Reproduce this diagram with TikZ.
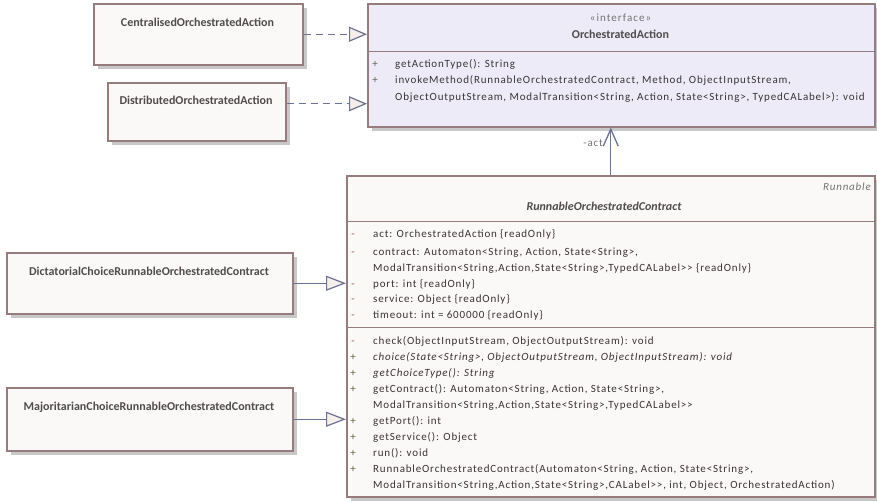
\documentclass[tikz,border=0pt]{standalone}
\usepackage{fontspec}
\setmainfont{Carlito}
\newfontfamily\bodyf[LetterSpace=7.5]{Carlito}
\newfontfamily\sterf[LetterSpace=9.5]{Carlito}
\usetikzlibrary{arrows.meta,shadows}
\definecolor{boxborder}{RGB}{150,124,124}
\definecolor{boxfill}{RGB}{251,249,248}
\definecolor{ifill}{RGB}{238,235,249}
\definecolor{linec}{RGB}{108,114,146}
\definecolor{trifill}{RGB}{246,238,234}
\definecolor{txt}{RGB}{58,52,52}
\definecolor{ttl}{RGB}{80,76,76}
\definecolor{lbl}{RGB}{115,115,115}
\definecolor{plusc}{RGB}{90,105,65}
\definecolor{minusc}{RGB}{145,90,80}
\definecolor{shadowc}{RGB}{200,200,200}
\tikzset{
  classbox/.style={draw=boxborder, line width=1.5pt, fill=boxfill, anchor=north west,
    inner sep=0pt, drop shadow={shadow xshift=4pt, shadow yshift=-4pt, fill=shadowc, opacity=1}},
  ifacebox/.style={classbox, fill=ifill},
  sepline/.style={draw=boxborder, line width=0.9pt},
  ttlstyle/.style={anchor=base, inner sep=0pt, font=\fontsize{12}{14}\selectfont\bfseries, text=ttl},
  mem/.style={anchor=base west, inner sep=0pt, font=\bodyf\fontsize{11}{13}\selectfont, text=txt},
  plusm/.style={anchor=base, inner sep=0pt, font=\fontsize{11}{13}\selectfont, text=plusc},
  minusm/.style={anchor=base, inner sep=0pt, font=\fontsize{11}{13}\selectfont, text=minusc},
  dashline/.style={draw=linec, line width=1.3pt, dash pattern=on 7pt off 5pt},
  solidline/.style={draw=linec, line width=1.3pt},
  reali/.style={-{Triangle[length=18pt,width=15pt,fill=trifill,line width=1.2pt]}},
  gener/.style={-{Triangle[length=20pt,width=15pt,fill=trifill,line width=1.2pt]}},
  assoc/.style={-{Straight Barb[length=17pt,width=15pt,line width=1.3pt]}}
}
\begin{document}
\begin{tikzpicture}[x=1pt,y=-1pt]
\useasboundingbox (0,0) rectangle (877,501);
\fill[white] (0,0) rectangle (877,501);

% boxes
\node[classbox, minimum width=209pt, minimum height=61pt] (cent) at (93,3) {};
\node[classbox, minimum width=178pt, minimum height=58pt] (dist) at (107,82) {};
\node[classbox, minimum width=286pt, minimum height=61pt] (dict) at (6,252) {};
\node[classbox, minimum width=286pt, minimum height=63pt] (maj) at (6,387) {};
\node[ifacebox, minimum width=507pt, minimum height=123pt] (iface) at (367,3) {};
\node[classbox, minimum width=528pt, minimum height=321pt] (run) at (346,175) {};

% separators
\draw[sepline] (iface.west |- 0,51) -- (iface.east |- 0,51);
\draw[sepline] (run.west |- 0,221) -- (run.east |- 0,221);
\draw[sepline] (run.west |- 0,327) -- (run.east |- 0,327);

% titles
\node[ttlstyle] (centT) at (197.5,26) {CentralisedOrchestratedAction};
\node[ttlstyle] (distT) at (196,104) {DistributedOrchestratedAction};
\node[ttlstyle] (dictT) at (149,275) {DictatorialChoiceRunnableOrchestratedContract};
\node[ttlstyle] (majT) at (149,410) {MajoritarianChoiceRunnableOrchestratedContract};

% interface
\node[anchor=base, inner sep=0pt, font=\sterf\fontsize{11}{13}\selectfont, text=lbl] (istereo) at (620.5,21) {«interface»};
\node[ttlstyle] (iT) at (620.5,38) {OrchestratedAction};
\node[plusm] (ip1) at (375,67) {+};
\node[mem] (im1) at (395,67) {getActionType(): String};
\node[plusm] (ip2) at (375,83.5) {+};
\node[mem] (im2) at (395,83.5) {invokeMethod(RunnableOrchestratedContract, Method, ObjectInputStream,};
\node[mem] (im3) at (395,100) {ObjectOutputStream, ModalTransition<String, Action, State<String>, TypedCALabel>): void};

% runnable
\node[anchor=base east, inner sep=0pt, font=\bodyf\fontsize{11}{13}\selectfont\itshape, text=lbl] (rster) at (871,190) {Runnable};
\node[ttlstyle, font=\fontsize{12}{14}\selectfont\bfseries\itshape] (rT) at (604,210) {RunnableOrchestratedContract};

\node[minusm] (ra0) at (353,237) {-};
\node[mem] (ra1) at (373,237) {act: OrchestratedAction \{readOnly\}};
\node[minusm] (rb0) at (353,255) {-};
\node[mem] (rb1) at (373,255) {contract: Automaton<String, Action, State<String>,};
\node[mem] (rb2) at (373,271) {ModalTransition<String,Action,State<String>,TypedCALabel>{}> \{readOnly\}};
\node[minusm] (rc0) at (353,287) {-};
\node[mem] (rc1) at (373,287) {port: int \{readOnly\}};
\node[minusm] (rd0) at (353,302) {-};
\node[mem] (rd1) at (373,302) {service: Object \{readOnly\}};
\node[minusm] (re0) at (353,318) {-};
\node[mem] (re1) at (373,318) {timeout: int = 600000 \{readOnly\}};

\node[minusm] (rf0) at (353,344) {-};
\node[mem] (rf1) at (373,344) {check(ObjectInputStream, ObjectOutputStream): void};
\node[plusm] (rg0) at (353,360) {+};
\node[mem, font=\bodyf\fontsize{11}{13}\selectfont\itshape] (rg1) at (373,360) {choice(State<String>, ObjectOutputStream, ObjectInputStream): void};
\node[plusm] (rh0) at (353,376) {+};
\node[mem, font=\bodyf\fontsize{11}{13}\selectfont\itshape] (rh1) at (373,376) {getChoiceType(): String};
\node[plusm] (ri0) at (353,392) {+};
\node[mem] (ri1) at (373,392) {getContract(): Automaton<String, Action, State<String>,};
\node[mem] (ri2) at (373,408) {ModalTransition<String,Action,State<String>,TypedCALabel>{}>};
\node[plusm] (rj0) at (353,424) {+};
\node[mem] (rj1) at (373,424) {getPort(): int};
\node[plusm] (rk0) at (353,440) {+};
\node[mem] (rk1) at (373,440) {getService(): Object};
\node[plusm] (rl0) at (353,456) {+};
\node[mem] (rl1) at (373,456) {run(): void};
\node[plusm] (rm0) at (353,472) {+};
\node[mem] (rm1) at (373,472) {RunnableOrchestratedContract(Automaton<String, Action, State<String>,};
\node[mem] (rm2) at (373,488) {ModalTransition<String,Action,State<String>,CALabel>{}>, int, Object, OrchestratedAction)};

% connectors
\draw[dashline, reali] (cent.east) -- (cent.east -| iface.west);
\draw[dashline, reali] ([yshift=8pt]dist.east) -- ([yshift=8pt]dist.east -| iface.west);
\draw[solidline, gener] (dict.east) -- (dict.east -| run.west);
\draw[solidline, gener] (maj.east) -- (maj.east -| run.west);
\draw[solidline, assoc] (run.north) -- (run.north |- iface.south);
\node[anchor=base east, inner sep=0pt, font=\bodyf\fontsize{11}{13}\selectfont, text=lbl] (actl) at (603,146) {-act};
\end{tikzpicture}
\end{document}
